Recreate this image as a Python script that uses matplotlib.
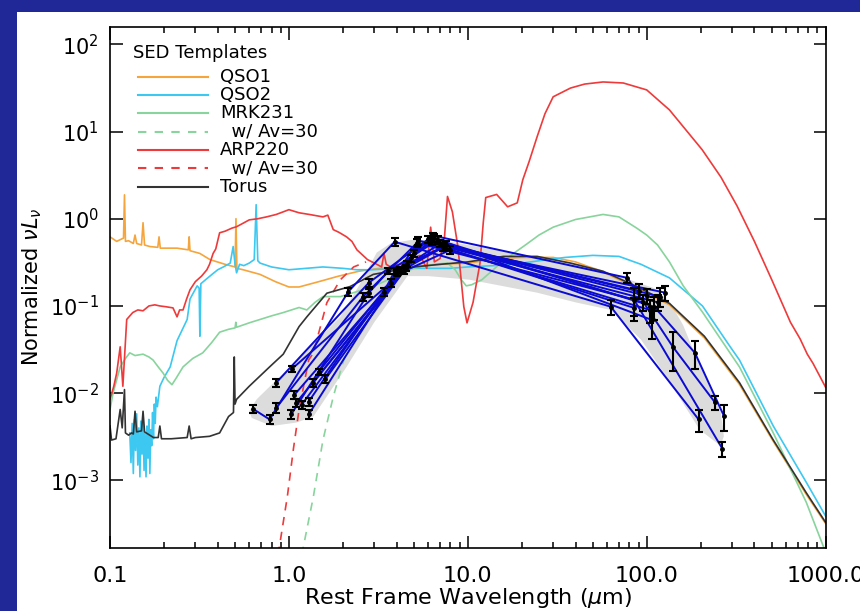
import matplotlib
matplotlib.use("Agg")
import matplotlib.pyplot as plt
from matplotlib.patches import Rectangle
from matplotlib.ticker import FixedLocator, FixedFormatter, NullLocator, LogLocator

plt.rcParams["font.family"] = ["DejaVu Sans"]
plt.rcParams["mathtext.fontset"] = "dejavusans"

# --- SED templates (rest wavelength in micron, normalized nuL_nu) ---
qso1_wave = [0.100, 0.109, 0.115, 0.119, 0.1205, 0.122, 0.127, 0.135, 0.138, 0.141, 0.150, 0.153, 0.156,
             0.167, 0.185, 0.188, 0.191, 0.237, 0.274, 0.277, 0.280, 0.318, 0.362, 0.44, 0.50, 0.506,
             0.512, 0.555, 0.69, 0.84, 1.0, 1.14, 1.47, 1.9, 2.46, 3.2, 4.2, 5.5, 7.0, 10, 15, 20, 30,
             40, 57, 88, 134, 210, 330, 510, 780, 1000]
qso1_flux = [0.62, 0.55, 0.58, 0.6, 1.88, 0.55, 0.56, 0.52, 0.65, 0.52, 0.5, 0.9, 0.5,
             0.48, 0.47, 0.62, 0.46, 0.46, 0.44, 0.62, 0.43, 0.40, 0.34, 0.30, 0.28, 1.0,
             0.27, 0.26, 0.23, 0.19, 0.165, 0.165, 0.19, 0.22, 0.25, 0.27, 0.28, 0.29, 0.30, 0.31, 0.35, 0.36, 0.36,
             0.32, 0.245, 0.16, 0.103, 0.043, 0.0126, 0.0028, 6.9e-4, 3.2e-4]

qso2_wave = [0.129, 0.131, 0.133, 0.135, 0.137, 0.139, 0.141, 0.143, 0.145, 0.147, 0.149, 0.151, 0.153,
             0.155, 0.157, 0.159, 0.161, 0.163, 0.165, 0.167, 0.169, 0.171, 0.173, 0.175, 0.177, 0.179,
             0.181, 0.184, 0.19, 0.2, 0.217, 0.237, 0.27, 0.28, 0.307, 0.315, 0.318, 0.322, 0.362, 0.40,
             0.43, 0.47, 0.488, 0.50, 0.51, 0.53, 0.56, 0.60, 0.64, 0.656, 0.67, 0.69, 0.8, 1.0, 1.25,
             1.55, 2.0, 2.4, 2.9, 4, 6, 8, 10, 14, 20, 28, 35, 50, 70, 93, 134, 205, 293, 330, 510, 780, 1000]
qso2_flux = [0.0035, 0.0016, 0.0045, 0.0012, 0.005, 0.0022, 0.0058, 0.0015, 0.004, 0.0011, 0.0048, 0.002, 0.0055,
             0.0013, 0.0035, 0.0011, 0.0042, 0.0018, 0.005, 0.0012, 0.0038, 0.0025, 0.006, 0.003, 0.0075, 0.0045,
             0.009, 0.007, 0.012, 0.015, 0.02, 0.04, 0.07, 0.12, 0.17, 0.16, 0.045, 0.18, 0.22, 0.26,
             0.28, 0.31, 0.48, 0.3, 0.24, 0.3, 0.29, 0.31, 0.34, 1.45, 0.33, 0.31, 0.28, 0.26, 0.27,
             0.28, 0.27, 0.26, 0.26, 0.27, 0.27, 0.27, 0.28, 0.29, 0.31, 0.34, 0.36, 0.38, 0.37, 0.3, 0.21,
             0.1, 0.034, 0.024, 0.0042, 9.5e-4, 3.9e-4]

mrk231_wave = [0.1, 0.104, 0.114, 0.122, 0.129, 0.138, 0.153, 0.165, 0.174, 0.186, 0.198, 0.21, 0.222, 0.235,
               0.256, 0.29, 0.33, 0.37, 0.41, 0.46, 0.5, 0.505, 0.51, 0.6, 0.69, 0.8, 0.93, 1.14, 1.26, 1.4,
               1.55, 1.94, 2.4, 3.0, 4.0, 5.0, 6.5, 7.7, 8.5, 9.2, 9.8, 10.5, 12, 15, 18, 21, 25, 30, 40, 57,
               70, 88, 100, 115, 134, 160, 205, 330, 510, 780, 1000]
mrk231_flux = [0.0065, 0.01, 0.02, 0.025, 0.029, 0.027, 0.028, 0.026, 0.024, 0.02, 0.017, 0.014, 0.0125, 0.015,
               0.02, 0.025, 0.029, 0.038, 0.05, 0.054, 0.056, 0.065, 0.057, 0.064, 0.07, 0.077, 0.084, 0.096, 0.09, 0.11,
               0.128, 0.128, 0.146, 0.17, 0.22, 0.27, 0.3, 0.31, 0.26, 0.2, 0.17, 0.175, 0.2, 0.3, 0.4, 0.5, 0.65, 0.8, 0.98, 1.12,
               1.05, 0.78, 0.65, 0.5, 0.32, 0.17, 0.085, 0.02, 0.0035, 5.6e-4, 1.5e-4]
mrk231_av_wave = [1.18, 1.37, 1.55, 1.77, 2.0, 2.2]
mrk231_av_flux = [1.4e-4, 6.5e-4, 0.0029, 0.0091, 0.022, 0.04]

arp220_wave = [0.1, 0.105, 0.109, 0.114, 0.118, 0.124, 0.134, 0.143, 0.153, 0.165, 0.178, 0.19, 0.205, 0.225,
               0.237, 0.245, 0.256, 0.268, 0.28, 0.3, 0.325, 0.348, 0.36, 0.377, 0.39, 0.41, 0.44, 0.48, 0.51,
               0.55, 0.6, 0.67, 0.75, 0.85, 0.93, 1.0, 1.14, 1.3, 1.55, 1.65, 1.77, 1.9, 2.1, 2.25, 2.4, 2.75,
               3.1, 3.3, 3.4, 3.5, 3.7, 4.2, 4.8, 5.4, 5.9, 6.2, 6.5, 7.0, 7.4, 7.7, 8.2, 8.8, 9.5, 9.9, 10.7,
               11.7, 12.2, 12.6, 14.5, 16.7, 18.9, 20.3, 22, 24.4, 27, 30, 37.5, 45, 57, 74, 100, 134, 204,
               260, 320, 400, 500, 636, 720, 790, 850, 1000]
arp220_flux = [0.0085, 0.012, 0.017, 0.034, 0.012, 0.07, 0.084, 0.09, 0.088, 0.1, 0.103, 0.1, 0.098, 0.095,
               0.075, 0.09, 0.09, 0.12, 0.153, 0.19, 0.22, 0.26, 0.3, 0.4, 0.45, 0.69, 0.72, 0.78, 0.81,
               0.88, 0.97, 1.0, 1.05, 1.12, 1.2, 1.27, 1.17, 1.12, 1.05, 1.1, 0.75, 0.7, 0.62, 0.55, 0.44, 0.34,
               0.3, 0.28, 0.4, 0.3, 0.28, 0.3, 0.35, 0.38, 0.27, 0.8, 0.32, 0.35, 0.6, 1.8, 1.2, 0.48, 0.098, 0.064, 0.11,
               0.31, 0.9, 1.75, 1.9, 1.37, 1.52, 2.8, 4.5, 8.7, 16, 25, 31.5, 35, 37, 36, 30, 17.7, 6.2,
               3.0, 1.4, 0.55, 0.2, 0.065, 0.042, 0.028, 0.022, 0.0117]
arp220_av_wave = [0.87, 0.98, 1.06, 1.14, 1.29, 1.37, 1.63, 1.94, 2.3, 2.7]
arp220_av_flux = [1.4e-4, 6.5e-4, 0.0023, 0.0065, 0.024, 0.029, 0.109, 0.2, 0.28, 0.32]

torus_wave = [0.100, 0.102, 0.108, 0.114, 0.117, 0.1205, 0.122, 0.127, 0.132, 0.135, 0.138, 0.141, 0.150,
              0.153, 0.156, 0.175, 0.186, 0.19, 0.194, 0.2, 0.22, 0.27, 0.277, 0.284, 0.3, 0.36, 0.41, 0.46,
              0.49, 0.495, 0.50, 0.51, 0.6, 0.78, 0.93, 1.14, 1.26, 1.63, 2.2, 2.96, 3.7, 5.0, 7.0, 10,
              15.8, 24.4, 37.5, 57, 88, 134, 210, 330, 510, 780, 1000]
torus_flux = [0.0042, 0.0029, 0.003, 0.0065, 0.004, 0.011, 0.0035, 0.0033, 0.0035, 0.0034, 0.0062, 0.0036, 0.0037,
              0.0062, 0.0036, 0.0031, 0.0031, 0.0042, 0.003, 0.003, 0.003, 0.0031, 0.0042, 0.003, 0.0031, 0.0032, 0.0035, 0.0054,
              0.006, 0.026, 0.0075, 0.0085, 0.012, 0.02, 0.028, 0.058, 0.075, 0.14, 0.167, 0.23, 0.25, 0.28, 0.3, 0.32,
              0.37, 0.37, 0.31, 0.25, 0.167, 0.107, 0.045, 0.0132, 0.0029, 7.2e-4, 3.3e-4]

# --- model range (gray band) ---
band_upper_wave = [0.6, 0.66, 1.11, 1.94, 2.5, 3.1, 3.7, 4.8, 7, 10, 14, 20, 30, 50, 80, 110, 135, 160, 175, 220, 258, 270]
band_upper_flux = [0.0062, 0.0085, 0.024, 0.075, 0.18, 0.41, 0.52, 0.57, 0.57, 0.5, 0.44, 0.38, 0.35, 0.28, 0.2,
                   0.16, 0.11, 0.06, 0.038, 0.013, 0.0065, 0.0032]
band_lower_wave = [258, 198, 130, 93, 63, 40, 24.4, 10.2, 6, 4.6, 3.0, 2.1, 1.37, 1.1, 0.8, 0.62]
band_lower_flux = [0.0025, 0.0038, 0.015, 0.041, 0.09, 0.11, 0.142, 0.2, 0.22, 0.22, 0.065, 0.02, 0.0054, 0.0046,
                   0.0042, 0.0052]

# --- observed sources: wavelength, flux, fractional error ---
src_wave = [
    [0.63, 0.78, 2.15, 3.9, 63, 195],
    [0.85, 2.8, 6.4, 78, 140, 240],
    [0.85, 2.6, 5.2, 85, 265],
    [1.04, 3.7, 5.3, 127],
    [1.03, 2.8, 3.6, 6.8, 110, 186, 270],
    [1.07, 3.4, 3.9, 7.3, 85],
    [1.1, 4.4, 8.0, 104],
    [1.18, 4.8, 6.5, 107],
    [1.29, 4.2, 7.0, 119],
    [1.29, 4.0, 6.0, 95],
    [1.37, 4.6, 7.6, 100],
    [1.47, 5.0, 6.3, 90],
    [1.6, 4.5, 7.4, 115],
]
src_flux = [
    [0.0066, 0.005, 0.146, 0.545, 0.098, 0.005],
    [0.0132, 0.185, 0.64, 0.21, 0.034, 0.0079],
    [0.0068, 0.128, 0.53, 0.118, 0.0023],
    [0.019, 0.185, 0.56, 0.142],
    [0.0057, 0.142, 0.25, 0.57, 0.098, 0.029, 0.0055],
    [0.0095, 0.146, 0.25, 0.47, 0.095],
    [0.0078, 0.25, 0.44, 0.09],
    [0.0074, 0.35, 0.6, 0.069],
    [0.0057, 0.26, 0.52, 0.128],
    [0.008, 0.24, 0.58, 0.11],
    [0.0132, 0.3, 0.5, 0.13],
    [0.0177, 0.4, 0.55, 0.15],
    [0.0145, 0.27, 0.48, 0.11],
]
src_err = [
    [0.1, 0.12, 0.1, 0.1, 0.2, 0.28],
    [0.1, 0.1, 0.08, 0.13, 0.47, 0.18],
    [0.12, 0.1, 0.1, 0.35, 0.2],
    [0.08, 0.1, 0.1, 0.2],
    [0.12, 0.1, 0.08, 0.1, 0.3, 0.35, 0.33],
    [0.1, 0.1, 0.08, 0.1, 0.3],
    [0.1, 0.08, 0.1, 0.3],
    [0.1, 0.1, 0.1, 0.4],
    [0.12, 0.08, 0.1, 0.25],
    [0.1, 0.08, 0.1, 0.2],
    [0.1, 0.08, 0.1, 0.2],
    [0.08, 0.1, 0.1, 0.2],
    [0.1, 0.08, 0.1, 0.2],
]

xtick_vals = [0.1, 1.0, 10.0, 100.0, 1000.0]
xtick_text = ["0.1", "1.0", "10.0", "100.0", "1000.0"]

C_QSO1 = "#f5a53c"
C_QSO2 = "#3cc8f0"
C_MRK = "#88d49c"
C_ARP = "#ee3a3a"
C_TOR = "#333333"

fig = plt.figure(figsize=(8.6, 6.11), dpi=100)
fig.patch.set_facecolor("#1f2896")
fig.add_artist(Rectangle((17 / 860, 0), 1, 599 / 611, transform=fig.transFigure,
                         facecolor="white", edgecolor="none", zorder=-1))

ax = fig.add_axes([110 / 860, 63.5 / 611, 715.6 / 860, 521 / 611])
ax.set_xscale("log")
ax.set_yscale("log")

# gray range, templates, then the sources on top
ax.fill(band_upper_wave + band_lower_wave, band_upper_flux + band_lower_flux,
        facecolor="#dcdcdc", edgecolor="none", zorder=1)

lw = 1.2
ax.plot(qso1_wave, qso1_flux, color=C_QSO1, lw=lw, zorder=2)
ax.plot(qso2_wave, qso2_flux, color=C_QSO2, lw=lw, zorder=2)
ax.plot(mrk231_wave, mrk231_flux, color=C_MRK, lw=lw, zorder=2)
ax.plot(mrk231_av_wave, mrk231_av_flux, color=C_MRK, lw=lw, dashes=(5, 4), zorder=2)
ax.plot(arp220_wave, arp220_flux, color=C_ARP, lw=lw, zorder=2)
ax.plot(arp220_av_wave, arp220_av_flux, color=C_ARP, lw=lw, dashes=(5, 4), zorder=2)
ax.plot(torus_wave, torus_flux, color=C_TOR, lw=lw, zorder=2)

for w, f, e in zip(src_wave, src_flux, src_err):
    ax.plot(w, f, color="#0a0ad2", lw=1.4, zorder=3)
for w, f, e in zip(src_wave, src_flux, src_err):
    yerr = [fi * ei for fi, ei in zip(f, e)]
    ax.errorbar(w, f, yerr=yerr, fmt="o", ms=2.5, color="black", ecolor="black",
                elinewidth=1.5, capsize=3, capthick=1.5, zorder=4)

ax.set_xlim(0.1, 1000)
ax.set_ylim(1.7e-4, 160)

ax.xaxis.set_major_locator(FixedLocator(xtick_vals))
ax.xaxis.set_major_formatter(FixedFormatter(xtick_text))
ax.xaxis.set_minor_locator(LogLocator(base=10, subs=range(2, 10), numticks=20))
ax.yaxis.set_minor_locator(NullLocator())
ax.tick_params(which="both", direction="in", top=True, right=True, width=1.1)
ax.tick_params(which="major", length=9)
ax.tick_params(which="minor", length=4)
ax.tick_params(axis="x", which="major", labelsize=16, pad=13)
ax.tick_params(axis="y", which="major", labelsize=15, pad=8)
for s in ax.spines.values():
    s.set_linewidth(1.2)

ax.set_xlabel(r"Rest Frame Wavelength ($\mu$m)", fontsize=16, labelpad=0)
ax.set_ylabel(r"Normalized $\nu L_\nu$", fontsize=15, labelpad=4)

# legend block
ax.text(0.032, 0.950, "SED Templates", transform=ax.transAxes, fontsize=13, va="center", ha="left")
legend_rows = [("QSO1", C_QSO1, "-"), ("QSO2", C_QSO2, "-"), ("MRK231", C_MRK, "-"),
               ("  w/ Av=30", C_MRK, "--"), ("ARP220", C_ARP, "-"), ("  w/ Av=30", C_ARP, "--"),
               ("Torus", C_TOR, "-")]
for i, (lab, col, ls) in enumerate(legend_rows):
    yy = 0.904 - i * 0.0353
    ln, = ax.plot([0.039, 0.137], [yy, yy], color=col, lw=1.5, transform=ax.transAxes, zorder=5)
    if ls == "--":
        ln.set_dashes((4, 4))
    ax.text(0.154, yy, lab, transform=ax.transAxes, fontsize=13, va="center", ha="left")

fig.savefig("out.png", dpi=100, facecolor=fig.get_facecolor())
